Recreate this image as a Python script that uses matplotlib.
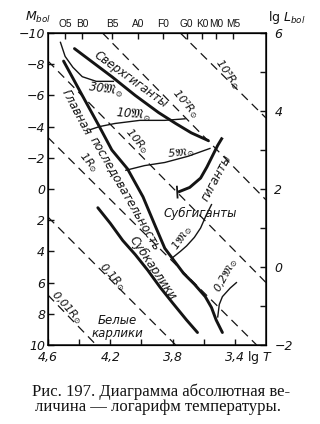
import matplotlib
matplotlib.use("Agg")
import matplotlib.pyplot as plt

plt.rcParams['font.family'] = ['DejaVu Sans']
plt.rcParams['mathtext.fontset'] = 'custom'
plt.rcParams['mathtext.rm'] = 'DejaVu Sans:italic'
plt.rcParams['mathtext.it'] = 'DejaVu Sans:italic'
plt.rcParams['mathtext.fallback'] = 'stix'

# ---------------- data (lg T, M_bol) ----------------
spec_classes = ['O5', 'B0', 'B5', 'A0', 'F0', 'G0', 'K0', 'M0', 'M5']
spec_lgT = [4.49, 4.38, 4.19, 4.02, 3.86, 3.71, 3.61, 3.52, 3.41]

lgT_ticks = [4.6, 4.4, 4.2, 4.0, 3.8, 3.6, 3.4]
lgT_labels = ['4,6', '', '4,2', '', '3,8', '', '3,4']
M_ticks = [-10, -8, -6, -4, -2, 0, 2, 4, 6, 8, 10]
M_labels = ['−10', '−8', '−6', '−4', '−2', '0', '2', '4', '6', '8', '10']
lgL_ticks = [-2, -1, 0, 1, 2, 3, 4, 5, 6]
lgL_labels = ['−2', '', '0', '', '2', '', '4', '', '6']

# main sequence
ms_lgT = [4.50, 4.38, 4.27, 4.19, 4.09, 3.99, 3.91, 3.85, 3.79, 3.73, 3.66, 3.59, 3.55, 3.52, 3.48]
ms_M = [-8.2, -6.0, -4.0, -2.5, -1.3, 0.5, 2.4, 3.8, 4.6, 5.4, 6.1, 6.9, 7.6, 8.4, 9.2]
# supergiants
sg_lgT = [4.43, 4.19, 4.04, 3.89, 3.78, 3.68, 3.57]
sg_M = [-9.0, -7.2, -6.0, -4.9, -4.2, -3.6, -3.1]
# giants (with the short end mark at the lower end)
gi_lgT = [3.765, 3.69, 3.62, 3.58, 3.54, 3.51, 3.48]
gi_M = [0.2, -0.1, -0.7, -1.4, -2.2, -2.8, -3.3]
gi_mark_lgT = [3.772, 3.768]
gi_mark_M = [-0.15, 0.55]
# subdwarfs
sd_lgT = [4.28, 4.20, 4.12, 4.04, 3.96, 3.88, 3.80, 3.71, 3.64]
sd_M = [1.2, 2.2, 3.3, 4.2, 5.2, 6.3, 7.3, 8.4, 9.2]
# evolutionary tracks
tr30_lgT = [4.52, 4.49, 4.44, 4.38, 4.29, 4.18]
tr30_M = [-9.4, -8.5, -7.8, -7.2, -6.9, -6.9]
tr10_lgT = [4.33, 4.27, 4.17, 4.01, 3.85, 3.72]
tr10_M = [-3.8, -4.0, -4.2, -4.4, -4.4, -4.5]
tr5_lgT = [4.10, 3.98, 3.85, 3.70, 3.56]
tr5_M = [-1.2, -1.5, -1.7, -2.1, -2.6]
tr1_lgT = [3.80, 3.75, 3.71, 3.66, 3.62, 3.585, 3.55]
tr1_M = [4.4, 4.0, 3.65, 3.1, 2.5, 1.7, 1.0]
tr02_lgT = [3.51, 3.50, 3.48, 3.43, 3.39]
tr02_M = [8.2, 7.4, 6.9, 6.35, 6.0]

# lines of constant radius
rad_names = ['10³', '10²', '10', '1', '0,1', '0,01']
rad_T_start = [3.75, 4.25, 4.6, 4.6, 4.6, 4.6]
rad_M_start = [-10, -10, -8.2, -3.3, 1.8, 6.8]
rad_T_end = [3.20, 3.20, 3.20, 3.26, 3.78, 4.29]
rad_M_end = [-4.55, 0.7, 6.0, 10, 10, 10]
rad_label_T = [3.45, 3.72, 4.03, 4.34, 4.19, 4.48]
rad_label_M = [-7.4, -5.5, -3.1, -1.7, 5.6, 7.6]

# ---------------- figure ----------------
W, H = 320, 424
fig = plt.figure(figsize=(W / 100, H / 100), dpi=100)
fig.patch.set_facecolor('white')
ax = fig.add_axes([48 / W, 1 - 345 / H, 218 / W, 312 / H])
ax.set_xlim(4.6, 3.2)
ax.set_ylim(10, -10)
ink = '#141414'

for s in ax.spines.values():
    s.set_linewidth(1.1)
    s.set_color(ink)

ax.set_xticks(lgT_ticks)
ax.set_xticklabels(lgT_labels)
ax.set_yticks(M_ticks)
ax.set_yticklabels(M_labels)
ax.tick_params(direction='in', length=4, width=1, labelsize=9, pad=2, colors=ink)
ax.tick_params(axis='x', pad=4)
for lbl in ax.get_xticklabels() + ax.get_yticklabels():
    lbl.set_style('italic')

axt = ax.twiny()
axt.set_xlim(4.6, 3.2)
axt.set_xticks(spec_lgT)
axt.set_xticklabels(spec_classes)
axt.tick_params(direction='in', length=4, width=1, labelsize=7.3, pad=3, colors=ink)
for lbl in axt.get_xticklabels():
    lbl.set_family(['Liberation Sans', 'DejaVu Sans'])

axr = ax.twinx()
axr.set_ylim(-2, 6)
axr.set_yticks(lgL_ticks)
axr.set_yticklabels(lgL_labels)
axr.tick_params(direction='in', length=4, width=1, labelsize=9, pad=6, colors=ink)
for lbl in axr.get_yticklabels():
    lbl.set_style('italic')

# radius lines
for t1, m1, t2, m2 in zip(rad_T_start, rad_M_start, rad_T_end, rad_M_end):
    ax.plot([t1, t2], [m1, m2], color=ink, lw=0.9, dashes=(7, 4.5))
rad_rot = [-55, -50, -50, -50, -48, -48]
for name, t, m, r in zip(rad_names, rad_label_T, rad_label_M, rad_rot):
    ax.text(t, m, name + r'$R_{\odot}$', rotation=r, style='italic', fontsize=8,
            ha='center', va='center', color=ink, rotation_mode='anchor')

# sequences
ax.plot(ms_lgT, ms_M, color=ink, lw=2.1, solid_capstyle='round')
ax.plot(sg_lgT, sg_M, color=ink, lw=2.1, solid_capstyle='round')
ax.plot(gi_lgT, gi_M, color=ink, lw=2.1, solid_capstyle='butt')
ax.plot(gi_mark_lgT, gi_mark_M, color=ink, lw=1.3)
ax.plot(sd_lgT, sd_M, color=ink, lw=2.1, solid_capstyle='round')
for tx, tm in [(tr30_lgT, tr30_M), (tr10_lgT, tr10_M), (tr5_lgT, tr5_M),
               (tr1_lgT, tr1_M), (tr02_lgT, tr02_M)]:
    ax.plot(tx, tm, color=ink, lw=1.0)

# labels
def lab(t, m, s, rot=0, fs=8.5):
    ax.text(t, m, s, rotation=rot, style='italic', fontsize=fs, ha='center',
            va='center', color=ink, rotation_mode='anchor')

lab(4.07, -7.0, 'Сверхгиганты', -36, 8.5)
lab(4.23, -6.35, r'30$\mathfrak{M}_{\odot}$', -8, 8.5)
lab(4.05, -4.75, r'10$\mathfrak{M}_{\odot}$', -5, 8.5)
lab(3.75, -2.3, r'5$\mathfrak{M}_{\odot}$', 5, 8)
lab(3.52, -0.7, 'гиганты', 62, 8.5)
lab(3.62, 1.55, 'Субгиганты', 0, 8.5)
lab(3.74, 3.15, r'1$\mathfrak{M}_{\odot}$', 55, 8)
lab(3.455, 5.5, r'0,2$\mathfrak{M}_{\odot}$', 61, 8)
lab(3.93, 5.05, 'Субкарлики', -56, 8.5)
lab(4.42, -4.9, 'Главная', -62, 8.5)
lab(4.105, 0.25, 'последовательность', -60, 8.5)
ax.text(4.157, 8.85, 'Белые\nкарлики', style='italic', fontsize=8.5, ha='center',
        va='center', color=ink, linespacing=1.0)

# axis titles
fig.text(38 / W, 1 - 17 / H, r'$M_{bol}$', fontsize=9, ha='center', va='center', color=ink)
fig.text(287 / W, 1 - 17 / H, r'lg $L_{bol}$', fontsize=9, ha='center', va='center', color=ink)
fig.text(260 / W, 1 - 358 / H, r'lg $T$', fontsize=9, ha='center', va='center', color=ink)

# caption
cap_font = ['Liberation Serif', 'DejaVu Serif']
fig.text(32 / W, 1 - 392 / H, 'Рис. 197. Диаграмма абсолютная ве-', fontsize=12,
         family=cap_font, ha='left', va='center', color=ink)
fig.text(35 / W, 1 - 407 / H, 'личина — логарифм температуры.', fontsize=12,
         family=cap_font, ha='left', va='center', color=ink)

fig.savefig('out.png', dpi=100, facecolor='white')
